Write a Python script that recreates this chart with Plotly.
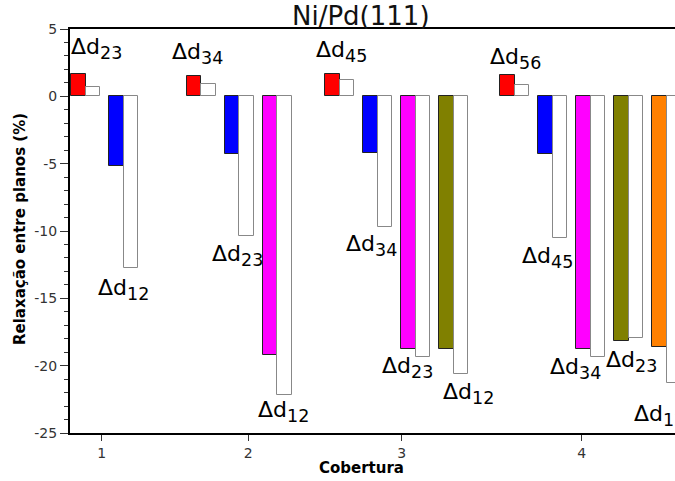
import plotly.graph_objects as go

# Interlayer relaxation (%) for Ni/Pd(111) vs. coverage (1..4 layers)
coverage = [1, 2, 3, 4]

# Layer series, from the outermost spacing (red) inwards (orange)
layer_colors = ["#ff0000", "#0000ff", "#ff00ff", "#808000", "#ff8000"]

# Filled bars (first set) and open bars (second set); None = layer absent
filled_red = [1.66, 1.49, 1.66, 1.59]
filled_blue = [-5.15, -4.30, -4.20, -4.30]
filled_magenta = [None, -19.18, -18.73, -18.78]
filled_olive = [None, None, -18.73, -18.19]
filled_orange = [None, None, None, -18.63]

open_red = [0.67, 0.92, 1.20, 0.85]
open_blue = [-12.76, -10.40, -9.68, -10.55]
open_magenta = [None, -22.16, -19.36, -19.36]
open_olive = [None, None, -20.63, -17.98]
open_orange = [None, None, None, -21.30]

filled = [filled_red, filled_blue, filled_magenta, filled_olive, filled_orange]
opened = [open_red, open_blue, open_magenta, open_olive, open_orange]

# Spacing labels per coverage, outermost first
spacing_labels = [
    ["23", "12"],
    ["34", "23", "12"],
    ["45", "34", "23", "12"],
    ["56", "45", "34", "23", "12"],
]

y_ticks = [5, 0, -5, -10, -15, -20, -25]

# ---- layout geometry (x axis in pixel-like units from the left spine) ----
group_start = [1.0, 116.7, 255.0, 430.0]
pair_step = 38.0
bar_w = 14.5
tick_pos = [31.7, 178.3, 331.7, 511.7]

# label offsets (px) relative to the open bar's left edge / end
label_offsets = [
    [(-17, 25), (-28, -21)],
    [(-31, 23), (-29, -19), (-21, -17)],
    [(-26, 22), (-34, -19), (-36, -10), (-13, -19)],
    [(-27, 16), (-33, -19), (-43, -11), (-25, -23), (-35, -32)],
]

FONT = "DejaVu Sans"


def spacing_text(idx):
    return ('Δd<sub><span style="font-size:17.5px">%s</span></sub>' % idx)


fig = go.Figure()
annotations = []

for k, color in enumerate(layer_colors):
    xs_f, ys_f, xs_o, ys_o = [], [], [], []
    for g in range(len(coverage)):
        vf = filled[k][g]
        vo = opened[k][g]
        if vf is None:
            continue
        left = group_start[g] + k * pair_step
        xs_f.append(left + bar_w / 2)
        ys_f.append(vf)
        xs_o.append(left + bar_w * 1.5)
        ys_o.append(vo)
        dx, dy = label_offsets[g][k]
        annotations.append(dict(
            x=left + bar_w, y=vo if k > 0 else max(vf, vo),
            xref="x", yref="y",
            text=spacing_text(spacing_labels[g][k]),
            showarrow=False, xanchor="left", yanchor="middle",
            xshift=dx, yshift=dy,
            font=dict(family=FONT, size=22, color="black"),
        ))
    fig.add_trace(go.Bar(
        x=xs_f, y=ys_f, width=bar_w,
        marker=dict(color=color, line=dict(color="#222222", width=1)),
        showlegend=False,
    ))
    fig.add_trace(go.Bar(
        x=xs_o, y=ys_o, width=bar_w,
        marker=dict(color="white", line=dict(color="#888888", width=1)),
        showlegend=False,
    ))

# Title and axis titles
annotations.append(dict(
    text="Ni/Pd(111)", xref="paper", yref="paper",
    x=(361 - 70) / 605, y=1, xanchor="center", yanchor="bottom", yshift=-4,
    showarrow=False, font=dict(family=FONT, size=26, color="#111111"),
))
annotations.append(dict(
    text="<b>Cobertura</b>", xref="paper", yref="paper",
    x=(361 - 70) / 605, y=0, xanchor="center", yanchor="middle", yshift=-35,
    showarrow=False, font=dict(family=FONT, size=15, color="black"),
))
annotations.append(dict(
    text="<b>Relaxação entre planos (%)</b>", xref="paper", yref="paper",
    x=(20 - 70) / 605, y=(433 - 229) / 404, xanchor="center", yanchor="middle",
    textangle=-90, showarrow=False,
    font=dict(family=FONT, size=15, color="black"),
))

fig.update_layout(
    width=675, height=481,
    margin=dict(l=70, r=0, t=29, b=48, pad=0),
    plot_bgcolor="white", paper_bgcolor="white",
    barmode="overlay",
    bargap=0,
    font=dict(family=FONT, size=14, color="#333333"),
    annotations=annotations,
    xaxis=dict(
        range=[0, 605], showgrid=False, zeroline=False,
        showline=True, linecolor="black", linewidth=2, mirror=True,
        ticks="outside", ticklen=6, tickwidth=1, tickcolor="#333333",
        tickvals=tick_pos, ticktext=[str(c) for c in coverage],
        tickfont=dict(family=FONT, size=14, color="#333333"),
    ),
    yaxis=dict(
        range=[-25, 5], showgrid=False, zeroline=False,
        showline=True, linecolor="black", linewidth=2, mirror=False,
        ticks="outside", ticklen=8, tickwidth=1, tickcolor="#333333",
        tickvals=y_ticks, ticktext=[str(v) for v in y_ticks],
        tickfont=dict(family=FONT, size=14, color="#333333"),
        minor=dict(dtick=1, ticks="outside", ticklen=4, tickwidth=1,
                   tickcolor="#333333", showgrid=False),
    ),
)

fig.write_html("out.html")
